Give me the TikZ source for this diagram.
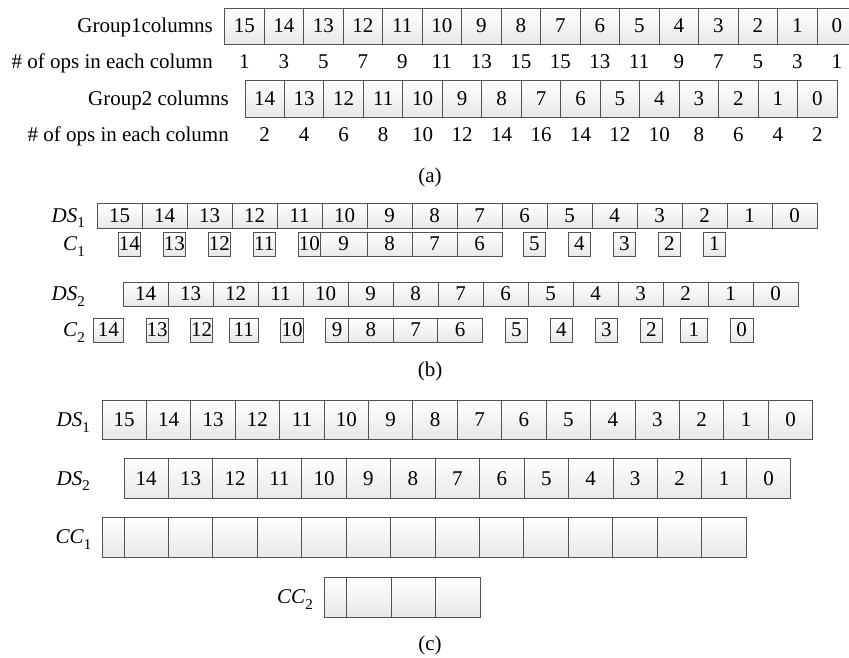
\documentclass[tikz,border=0pt]{standalone}
\usepackage{fontspec}
\setmainfont{Liberation Serif}
\newcommand\sbs[1]{\raisebox{-0.28em}{\fontsize{15}{15}\selectfont #1}}
\newcommand\mkcell[6]{\node[cellbox, minimum width={(#3)-(#2)}, minimum height={(#5)-(#4)}] (#1) at ({((#2)+(#3))/2},{((#4)+(#5))/2}) {#6};}
\tikzset{
  cellbox/.style={draw=black!68, line width=0.9pt, top color=white, bottom color=black!9,
    inner sep=0pt, outer sep=0pt, font=\fontsize{21}{21}\selectfont},
  lbl/.style={anchor=base east, inner sep=0pt, font=\fontsize{21}{21}\selectfont},
  num/.style={anchor=base, inner sep=0pt, font=\fontsize{21}{21}\selectfont},
  captxt/.style={inner sep=0pt, font=\fontsize{21}{21}\selectfont},
}
\begin{document}
\begin{tikzpicture}[x=1pt,y=-1pt]
\useasboundingbox (0,0) rectangle (849,657);
% ---------------- (a) ----------------
\node[lbl] (g1lbl) at (213,32) {Group1columns};
\foreach \n [count=\i from 0] in {15,14,...,0}{
  \pgfmathsetmacro\xa{224.5+39.5*\i}
  \mkcell{gA\i}{\xa}{\xa+39.5}{8}{44}{\n}
}
\node[lbl] (o1lbl) at (213,68) {\# of ops in each column};
\foreach \n [count=\i from 0] in {1,3,5,7,9,11,13,15,15,13,11,9,7,5,3,1}{
  \pgfmathsetmacro\xa{224.5+39.5*\i+19.75}
  \node[num] (oA\i) at (\xa,68) {\n};
}
\node[lbl] (g2lbl) at (229,105) {Group2 columns};
\foreach \n [count=\i from 0] in {14,13,...,0}{
  \pgfmathsetmacro\xa{245+39.47*\i}
  \mkcell{gB\i}{\xa}{\xa+39.47}{80}{117}{\n}
}
\node[lbl] (o2lbl) at (229,141.5) {\# of ops in each column};
\foreach \n [count=\i from 0] in {2,4,6,8,10,12,14,16,14,12,10,8,6,4,2}{
  \pgfmathsetmacro\xa{245+39.47*\i+19.735}
  \node[num] (oB\i) at (\xa,141.5) {\n};
}
\node[captxt] (capa) at (430,177) {(a)};
% ---------------- (b) ----------------
\node[lbl] (bds1) at (85,222) {\textit{DS}\sbs{1}};
\foreach \n [count=\i from 0] in {15,14,...,0}{
  \pgfmathsetmacro\xa{97+45*\i}
  \mkcell{bD\i}{\xa}{\xa+45}{203}{228}{\n}
}
\node[lbl] (bc1) at (85,250.5) {\textit{C}\sbs{1}};
\mkcell{c1a}{118.5}{140}{232}{256}{14}
\mkcell{c1b}{163.5}{185}{232}{256}{13}
\mkcell{c1c}{208.5}{230}{232}{256}{12}
\mkcell{c1d}{253.5}{275}{232}{256}{11}
\mkcell{c1e}{298.5}{320}{232}{256}{10}
\mkcell{c1f}{320}{367}{232}{256}{9}
\mkcell{c1g}{367}{412}{232}{256}{8}
\mkcell{c1h}{412}{457}{232}{256}{7}
\mkcell{c1i}{457}{502}{232}{256}{6}
\mkcell{c1j}{523.5}{545}{232}{256}{5}
\mkcell{c1k}{568.5}{590}{232}{256}{4}
\mkcell{c1l}{613.5}{635}{232}{256}{3}
\mkcell{c1m}{658.5}{680}{232}{256}{2}
\mkcell{c1n}{703.5}{725}{232}{256}{1}
\node[lbl] (bds2) at (85,300.5) {\textit{DS}\sbs{2}};
\foreach \n [count=\i from 0] in {14,13,...,0}{
  \pgfmathsetmacro\xa{123+45*\i}
  \mkcell{bE\i}{\xa}{\xa+45}{282}{306}{\n}
}
\node[lbl] (bc2) at (85,336.5) {\textit{C}\sbs{2}};
\mkcell{c2a}{93.3}{123.3}{318}{342}{14}
\mkcell{c2b}{146}{168.3}{318}{342}{13}
\mkcell{c2c}{190.7}{212.7}{318}{342}{12}
\mkcell{c2d}{229}{258.3}{318}{342}{11}
\mkcell{c2e}{280.7}{303.3}{318}{342}{10}
\mkcell{c2f}{325.7}{348.3}{318}{342}{9}
\mkcell{c2g}{348.3}{393.3}{318}{342}{8}
\mkcell{c2h}{393.3}{437.7}{318}{342}{7}
\mkcell{c2i}{437.7}{482.7}{318}{342}{6}
\mkcell{c2j}{505}{527.7}{318}{342}{5}
\mkcell{c2k}{550}{572.7}{318}{342}{4}
\mkcell{c2l}{595}{617.7}{318}{342}{3}
\mkcell{c2m}{640}{662.7}{318}{342}{2}
\mkcell{c2n}{680}{707.7}{318}{342}{1}
\mkcell{c2o}{730}{753.3}{318}{342}{0}
\node[captxt] (capb) at (430,371) {(b)};
% ---------------- (c) ----------------
\node[lbl] (cds1) at (90,426.5) {\textit{DS}\sbs{1}};
\foreach \n [count=\i from 0] in {15,14,...,0}{
  \pgfmathsetmacro\xa{102+44.42*\i}
  \mkcell{cD\i}{\xa}{\xa+44.42}{400}{439.5}{\n}
}
\node[lbl] (cds2) at (90,485) {\textit{DS}\sbs{2}};
\foreach \n [count=\i from 0] in {14,13,...,0}{
  \pgfmathsetmacro\xa{124+44.45*\i}
  \mkcell{cE\i}{\xa}{\xa+44.45}{458.3}{498.3}{\n}
}
\node[lbl] (ccc1) at (91.5,543.5) {\textit{CC}\sbs{1}};
\mkcell{cF0}{102}{124}{517.5}{557}{}
\foreach \i in {1,...,14}{
  \pgfmathsetmacro\xa{124+44.43*(\i-1)}
  \mkcell{cF\i}{\xa}{\xa+44.43}{517.5}{557}{}
}
\node[lbl] (ccc2) at (313,603.5) {\textit{CC}\sbs{2}};
\mkcell{cG0}{324}{346.5}{577}{617}{}
\mkcell{cG1}{346.5}{391}{577}{617}{}
\mkcell{cG2}{391}{435.5}{577}{617}{}
\mkcell{cG3}{435.5}{480}{577}{617}{}
\node[captxt] (capc) at (430,645) {(c)};
\end{tikzpicture}
\end{document}
